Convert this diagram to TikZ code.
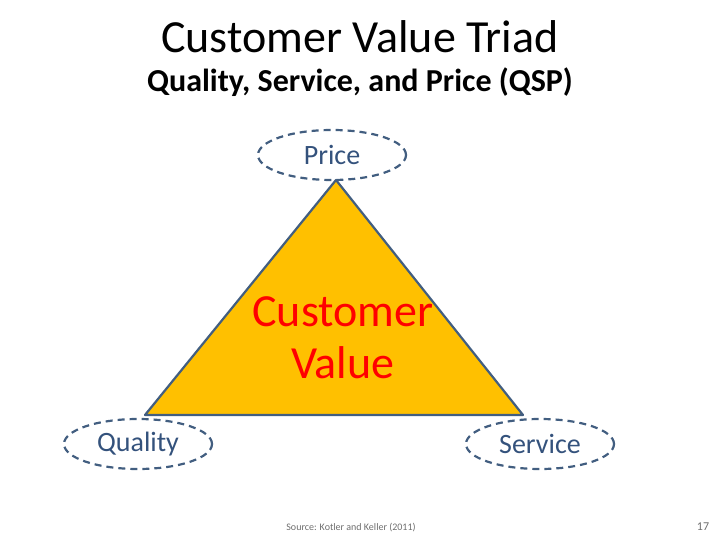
\documentclass[tikz,border=0pt]{standalone}
\usepackage{fontspec}
\setmainfont{Carlito}
\usetikzlibrary{shapes.geometric}
\definecolor{triyellow}{RGB}{255,192,0}
\definecolor{edgeblue}{RGB}{66,94,128}
\definecolor{labelblue}{RGB}{52,82,124}
\definecolor{srcgray}{RGB}{110,110,110}
\tikzset{
	corner/.style={ellipse,draw=edgeblue,dashed,line width=2.2pt,
		dash pattern=on 7pt off 5pt,minimum width=148pt,minimum height=50pt,
		inner sep=0pt,text=labelblue,font=\fontsize{28}{32}\selectfont},
	core/.style={text=red,align=center,inner sep=5pt,
		font=\fontsize{46}{52}\selectfont}
}

\begin{document}
\begin{tikzpicture}[x=1pt,y=-1pt]
\useasboundingbox (0,0) rectangle (720,540);

%title
\node (title) at (360,37) {\fontsize{46}{52}\selectfont Customer Value Triad};
\node (subtitle) at (360,82) {\fontsize{32}{38}\selectfont\bfseries Quality, Service, and Price (QSP)};

% triangle
\coordinate (top) at (336,180);
\coordinate (left) at (145,415);
\coordinate (right) at (523,415);
\draw[fill=triyellow,draw=edgeblue,line width=2.2pt,line join=round] (top) -- (right) -- (left) -- cycle;
\node[core] (value) at (343,338) {Customer\\Value};

% corners
\node[corner] (price) at (332,155) {Price};
\node[corner] (quality) at (138,444) {Quality};
\node[corner] (service) at (540,444) {Service};

%footer
\node[text=srcgray,font=\fontsize{10}{12}\selectfont] (source) at (351,528) {Source: Kotler and Keller (2011)};
\node[text=srcgray,font=\fontsize{12}{14}\selectfont] (page) at (703,527) {17};

\end{tikzpicture}
\end{document}
